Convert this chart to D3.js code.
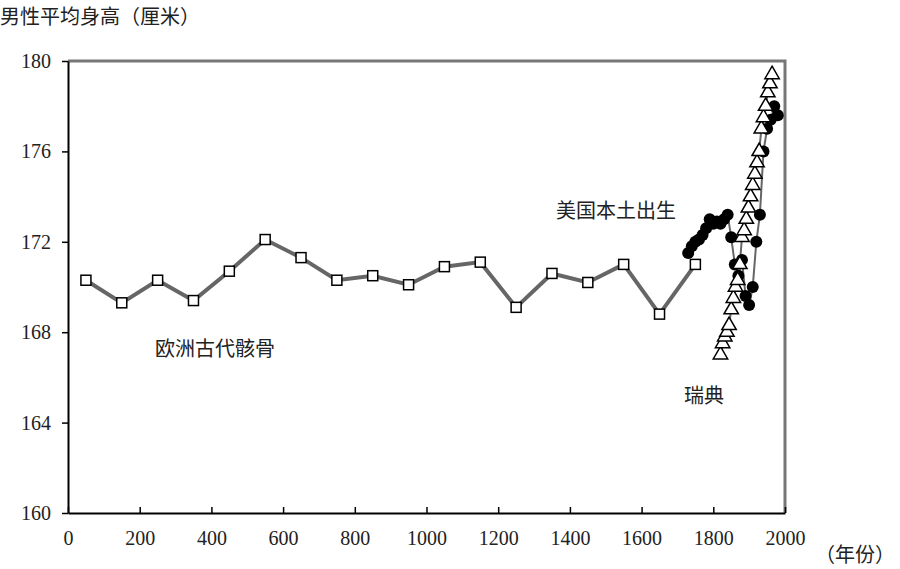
<!DOCTYPE html>
<html><head><meta charset="utf-8">
<script src="https://cdn.jsdelivr.net/npm/d3@7"></script>
<style>body{margin:0;background:#fff}text{font-family:"Liberation Serif","Noto Sans CJK SC",serif}</style>
</head><body><div id="chart"></div>
<script>
const europeYears = [50,150,250,350,450,550,650,750,850,950,1050,1150,1250,1350,1450,1550,1650,1750]
const europeValues = [170.3,169.3,170.3,169.4,170.7,172.1,171.3,170.3,170.5,170.1,170.9,171.1,169.1,170.6,170.2,171.0,168.8,171.0]
const usYears = [1730,1740,1750,1760,1770,1780,1790,1800,1810,1820,1830,1840,1850,1860,1870,1880,1890,1900,1910,1920,1930,1940,1950,1960,1970,1980]
const usValues = [171.5,171.8,172.0,172.1,172.3,172.6,173.0,172.8,172.9,172.8,173.0,173.2,172.2,171.0,170.5,171.2,169.6,169.2,170.0,172.0,173.2,176.0,177.0,177.4,178.0,177.6]
const swYears = [1820,1826,1832,1838,1844,1850,1856,1862,1868,1874,1880,1886,1892,1898,1904,1910,1916,1922,1928,1934,1940,1946,1952,1958,1964]
const swValues = [167.0,167.5,167.8,168.0,168.3,169.0,169.5,170.0,170.3,171.0,172.2,172.5,173.0,173.5,174.0,174.5,175.0,175.5,176.0,177.0,177.5,178.0,178.6,179.0,179.4]
const xTicks = [0,200,400,600,800,1000,1200,1400,1600,1800,2000]
const yTicks = [160,164,168,172,176,180]

const svg = d3.select("#chart").append("svg").attr("width",900).attr("height",569)
const x = d3.scaleLinear().domain([0,2000]).range([68,785])
const y = d3.scaleLinear().domain([160,180]).range([513,61])

// frame: grey top and right
svg.append("path").attr("d",`M${x(0)},${y(180)}H${x(2000)}V${y(160)}`)
    .attr("fill","none").attr("stroke","#777").attr("stroke-width",3)

const xAxis = svg.append("g").attr("transform",`translate(0,${y(160)})`)
    .call(d3.axisBottom(x).tickValues(xTicks).tickSize(6).tickSizeOuter(0).tickFormat(d3.format("d")))
xAxis.selectAll("line").attr("transform","translate(0,-6)")
const yAxis = svg.append("g").attr("transform",`translate(${x(0)},0)`)
    .call(d3.axisLeft(y).tickValues(yTicks).tickSize(6).tickSizeOuter(0))
svg.selectAll(".domain").attr("stroke","#000").attr("stroke-width",2)
svg.selectAll(".tick line").attr("stroke","#000").attr("stroke-width",1.5)
svg.selectAll(".tick text").attr("font-size",20).attr("fill","#222")
xAxis.selectAll("text").attr("dy","1.15em")
yAxis.selectAll("text").attr("dx","-0.4em")

const line = d3.line().x(d => x(d[0])).y(d => y(d[1]))
const eu = d3.zip(europeYears, europeValues)
const us = d3.zip(usYears, usValues)
const sw = d3.zip(swYears, swValues)

svg.append("path").datum(eu).attr("d",line).attr("fill","none").attr("stroke","#666").attr("stroke-width",4)
svg.append("path").datum(us).attr("d",line).attr("fill","none").attr("stroke","#666").attr("stroke-width",2)
svg.append("path").datum(sw).attr("d",line).attr("fill","none").attr("stroke","#666").attr("stroke-width",2)

svg.selectAll(".eu").data(eu).enter().append("rect")
    .attr("x",d => x(d[0])-5).attr("y",d => y(d[1])-5).attr("width",10).attr("height",10)
    .attr("fill","#fff").attr("stroke","#000").attr("stroke-width",1.5)
svg.selectAll(".us").data(us).enter().append("circle")
    .attr("cx",d => x(d[0])).attr("cy",d => y(d[1])).attr("r",6).attr("fill","#000")
const tri = d3.symbol().type(d3.symbolTriangle).size(90)
svg.selectAll(".sw").data(sw).enter().append("path")
    .attr("d",tri).attr("transform",d => `translate(${x(d[0])},${y(d[1])})`)
    .attr("fill","#fff").attr("stroke","#000").attr("stroke-width",1.5)

const label = (t,px,py) => svg.append("text").attr("x",px).attr("y",py).attr("font-size",20).attr("fill","#222").text(t)
label("男性平均身高（厘米）",0,24)
label("（年份）",815,562)
label("美国本土出生",556,218)
label("欧洲古代骸骨",155,356)
label("瑞典",684,403)
</script></body></html>
